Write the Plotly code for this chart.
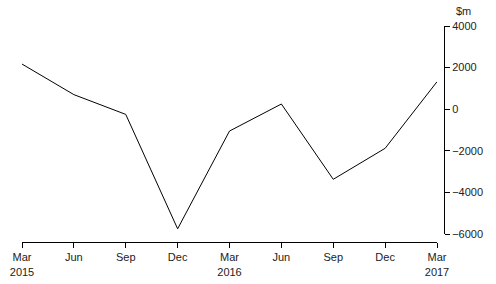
import plotly.graph_objects as go

quarters = ["Mar 2015", "Jun 2015", "Sep 2015", "Dec 2015", "Mar 2016",
            "Jun 2016", "Sep 2016", "Dec 2016", "Mar 2017"]
tick_labels = ["Mar<br>2015", "Jun", "Sep", "Dec", "Mar<br>2016",
               "Jun", "Sep", "Dec", "Mar<br>2017"]
values = [2170, 700, -250, -5750, -1050, 250, -3370, -1880, 1320]
y_ticks = [4000, 2000, 0, -2000, -4000, -6000]

xpos = list(range(len(quarters)))

font = dict(family="Liberation Sans, Arial, sans-serif", size=11, color="#222")

fig = go.Figure()
fig.add_trace(go.Scatter(x=xpos, y=values, mode="lines",
                         line=dict(color="black", width=1), hoverinfo="skip"))

fig.update_layout(
    width=496, height=284,
    margin=dict(l=22, r=52, t=26, b=42, autoexpand=False),
    plot_bgcolor="white", paper_bgcolor="white",
    showlegend=False,
    font=font,
    xaxis=dict(
        domain=[0, 415 / 422],
        range=[0, len(quarters) - 1],
        tickvals=xpos, ticktext=tick_labels,
        showgrid=False, zeroline=False,
        showline=True, linecolor="black", linewidth=1,
        ticks="outside", ticklen=5, tickcolor="black",
        anchor="free", position=0, automargin=False,
        tickfont=font,
    ),
    yaxis=dict(
        domain=[8 / 216, 1],
        range=[-6000, 4000],
        tickvals=y_ticks,
        side="right", anchor="free", position=1, automargin=False,
        showgrid=False, zeroline=False,
        showline=True, linecolor="black", linewidth=1,
        ticks="outside", ticklen=5, tickcolor="black",
        tickfont=font,
    ),
    annotations=[dict(text="$m", xref="paper", yref="paper", x=1.0, y=1.0,
                      xanchor="left", yanchor="bottom", xshift=10, yshift=7,
                      showarrow=False, font=font)],
)

fig.write_html("out.html")
